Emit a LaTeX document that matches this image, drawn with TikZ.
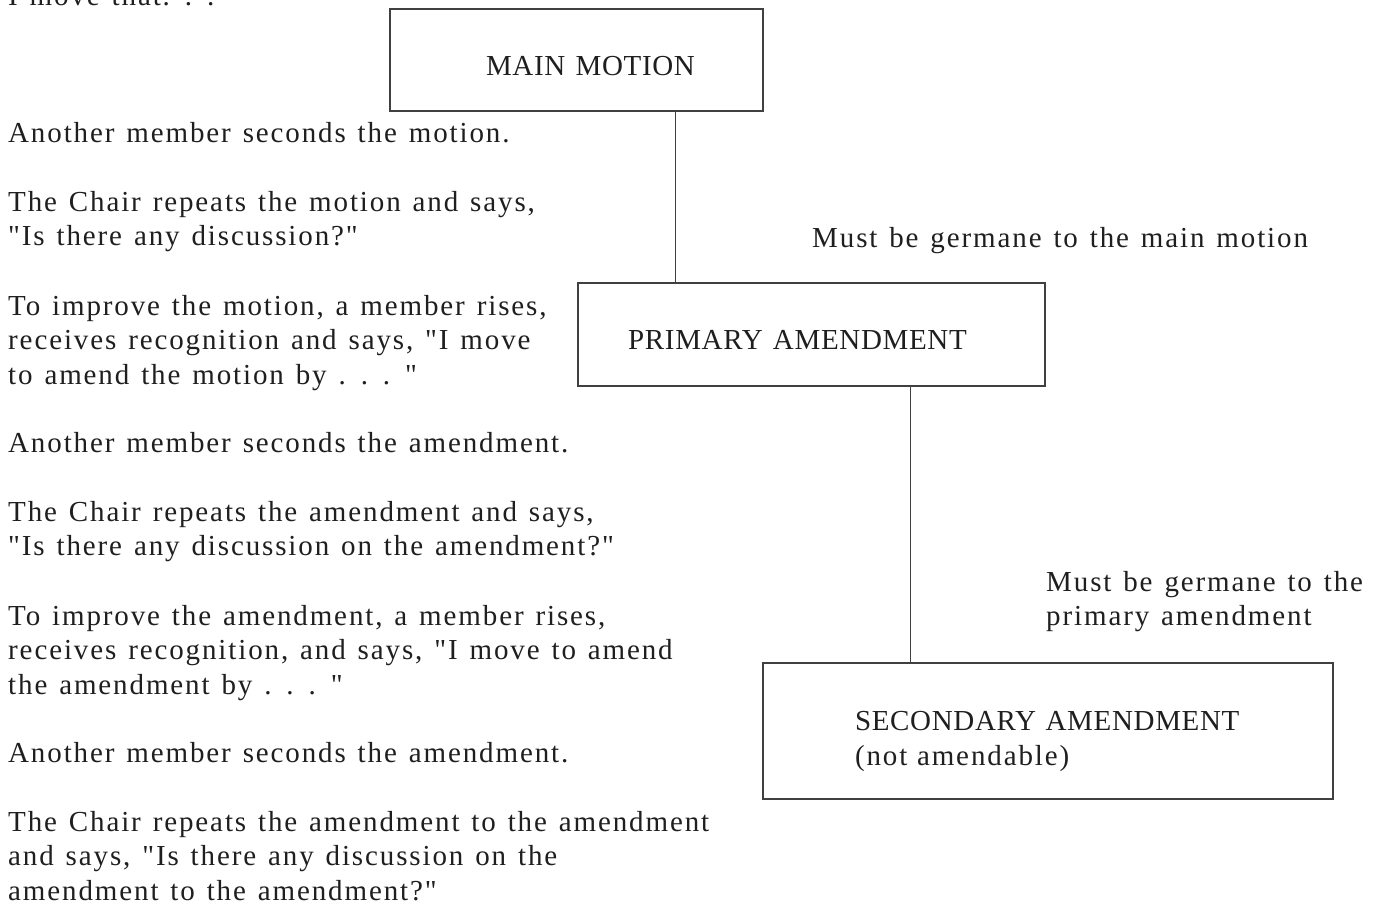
\documentclass[tikz,border=0pt]{standalone}
\usepackage{fontspec}
\newfontfamily\bodyfont{Liberation Serif}[LetterSpace=6.5,WordSpace=1.3]
\newfontfamily\capfont{Liberation Serif}[LetterSpace=2.3,WordSpace=1.3]
\newcommand{\leftpara}[1]{\parbox[t]{760pt}{\raggedright\bodyfont\fontsize{29}{34.5}\selectfont #1}}
\begin{document}
\begin{tikzpicture}[x=1pt,y=-1pt,
  every node/.style={font=\bodyfont\fontsize{29}{34.5}\selectfont, text=black!88},
  box/.style={draw=black!75, line width=1.3pt, inner sep=0pt, text height=30pt, text depth=0pt,
    font=\capfont\fontsize{29}{34.5}\selectfont},
  boxml/.style={draw=black!75, line width=1.3pt, inner ysep=0pt, align=left},
  conn/.style={draw=black!75, line width=1.4pt},
  txt/.style={anchor=base west, inner sep=0pt}]
\useasboundingbox[fill=white] (0,0) rectangle (1385,905);

% boxes
\node[box, minimum width=373pt, minimum height=102pt] (main) at (576.5,60) {\hspace*{28pt}MAIN MOTION};
\node[box, minimum width=467pt, minimum height=103pt] (primary) at (811.5,334.5) {PRIMARY AMENDMENT\hspace*{28pt}};
\node[boxml, text width=480pt, inner xsep=45pt, minimum height=136pt] (secondary) at (1048,731)
  {\hspace*{47pt}\rule{0pt}{40pt}{\capfont SECONDARY AMENDMENT}\\\hspace*{47pt}(not amendable)};

% connectors
\draw[conn] ([xshift=99pt]main.south) -- ([xshift=99pt]main.south |- primary.north);
\draw[conn] ([xshift=99pt]primary.south) -- ([xshift=99pt]primary.south |- secondary.north);

% right notes
\node[txt] (g1) at (812,247) {Must be germane to the main motion};
\node[txt] (g2) at (1046,591) {\leftpara{Must be germane to the\\primary amendment}};

% left column
\node[txt] (t0) at (8,5) {I move that. . .};
\node[txt] (t1) at (8,142) {Another member seconds the motion.};
\node[txt] (t2) at (8,211) {\leftpara{The Chair repeats the motion and says,\\"Is there any discussion?"}};
\node[txt] (t3) at (8,315) {\leftpara{To improve the motion, a member rises,\\receives recognition and says, "I move\\to amend the motion by . . . "}};
\node[txt] (t4) at (8,452) {Another member seconds the amendment.};
\node[txt] (t5) at (8,521) {\leftpara{The Chair repeats the amendment and says,\\"Is there any discussion on the amendment?"}};
\node[txt] (t6) at (8,625) {\leftpara{To improve the amendment, a member rises,\\receives recognition, and says, "I move to amend\\the amendment by . . . "}};
\node[txt] (t7) at (8,762) {Another member seconds the amendment.};
\node[txt] (t8) at (8,831) {\leftpara{The Chair repeats the amendment to the amendment\\and says, "Is there any discussion on the\\amendment to the amendment?"}};
\end{tikzpicture}
\end{document}
